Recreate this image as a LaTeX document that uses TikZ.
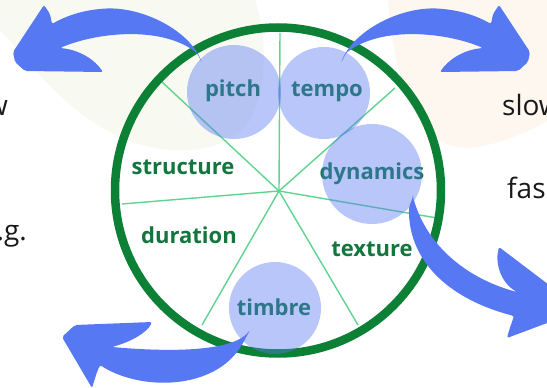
\documentclass[tikz,border=0pt]{standalone}
\usepackage{fontspec}
\setmainfont{Open Sans}
\definecolor{ringgreen}{RGB}{12,128,52}
\definecolor{spokegreen}{RGB}{95,212,145}
\definecolor{labgreen}{RGB}{18,118,62}
\definecolor{arrowblue}{RGB}{86,120,242}
\definecolor{sidetext}{RGB}{25,25,25}
\definecolor{bggreen}{RGB}{248,250,242}
\definecolor{bgbeige}{RGB}{253,247,240}
\begin{document}
\begin{tikzpicture}[x=1pt,y=-1pt,
  lab/.style={font=\bfseries\fontsize{22}{26}\selectfont, text=labgreen, inner sep=0pt},
  side/.style={font=\fontsize{28}{32}\selectfont, text=sidetext, inner sep=0pt},
  spoke/.style={draw=spokegreen, line width=1.4pt},
  bubble/.style={circle, fill=arrowblue, fill opacity=0.42, inner sep=0pt, minimum size=#1},
  bigarrow/.style={fill=arrowblue, draw=none, rounded corners=2pt}
]
\path[use as bounding box] (0,0) rectangle (547,388);
\begin{scope}
\clip (0,0) rectangle (547,388);
\fill[white] (0,0) rectangle (547,388);
% faint background tints
\fill[bggreen] (0,0) -- (0,30) .. controls (20,50) and (60,110) .. (120,137)
  .. controls (160,155) and (220,160) .. (250,120)
  .. controls (270,80) and (265,30) .. (255,0) -- cycle;
\fill[bgbeige] (388,0) .. controls (395,90) and (420,150) .. (470,148)
  .. controls (500,145) and (530,130) .. (547,122) -- (547,0) -- cycle;

% spokes
\coordinate (c) at (279,191);
\coordinate (s1) at (280,33);
\coordinate (s2) at (395,88);
\coordinate (s3) at (437,218);
\coordinate (s4) at (358,325);
\coordinate (s5) at (202,325);
\coordinate (s6) at (122,204);
\coordinate (s7) at (162,82);
\foreach \s in {s1,s2,s3,s4,s5,s6,s7} \draw[spoke] (c) -- (\s);

% ring
\node[circle, draw=ringgreen, line width=8.5pt, minimum size=326pt, inner sep=0pt] (ring) at (278,190.5) {};

% labels
\node[lab] (pitch) at (233,91) {pitch};
\node[lab] (tempo) at (327,92) {tempo};
\node[lab] (structure) at (183,167) {structure};
\node[lab] (dynamics) at (372,174) {dynamics};
\node[lab] (duration) at (189,235) {duration};
\node[lab] (texture) at (372,249) {texture};
\node[lab] (timbre) at (274,307) {timbre};

% side texts
\node[side, anchor=base west] (slow) at (502,115) {slow};
\node[side, anchor=base west] (fas) at (507,198) {fas};
\node[side, anchor=base east] (low) at (8,115) {w};
\node[side, anchor=base east] (eg) at (27,240) {.g.};

% translucent bubbles
\node[bubble=94pt] (bpitch) at (234,92) {};
\node[bubble=92pt] (btempo) at (324,93) {};
\node[bubble=100pt] (bdyn) at (372,174) {};
\node[bubble=92pt] (btimbre) at (275,308) {};

% big curved arrows
\fill[bigarrow] (202,63) .. controls (190,30) and (140,5) .. (100,9)
  .. controls (80,11) and (64,17) .. (52,24) -- (50,14) -- (44,5) -- (13,52) -- (15,62) -- (25,71) -- (103,72)
  .. controls (95,60) and (80,50) .. (60,48)
  .. controls (95,33) and (160,25) .. (197,53) -- cycle;
\begin{scope}[shift={(543,0)}, xscale=-1]
\fill[bigarrow] (202,63) .. controls (190,30) and (140,5) .. (100,9)
  .. controls (80,11) and (64,17) .. (52,24) -- (50,14) -- (44,5) -- (13,52) -- (15,62) -- (25,71) -- (103,72)
  .. controls (95,60) and (80,50) .. (60,48)
  .. controls (95,33) and (160,25) .. (197,53) -- cycle;
\end{scope}
\fill[bigarrow] (413,197) -- (409,207) .. controls (408,258) and (445,298) .. (514,316)
  .. controls (512,322) and (509,330) .. (507,338) -- (582,310) -- (499,247)
  .. controls (495,262) and (500,282) .. (517,292)
  .. controls (472,280) and (428,250) .. (413,197) -- cycle;
\fill[bigarrow] (250,330) .. controls (235,350) and (180,353) .. (112,347)
  .. controls (130,342) and (147,333) .. (152,322) -- (75,325) -- (62,337) -- (92,388) -- (97,372) -- (100,365)
  .. controls (140,391) and (215,391) .. (243,343) -- cycle;
\end{scope}
\end{tikzpicture}
\end{document}
